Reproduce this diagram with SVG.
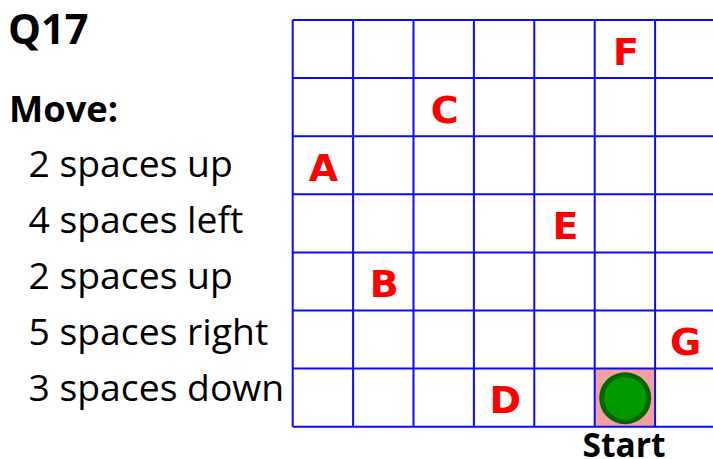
<svg xmlns="http://www.w3.org/2000/svg" width="713" height="459" viewBox="0 0 713 459">
<style>
.grid{stroke:#0a0aff;stroke-width:2;fill:none}
.lbl{font-family:"DejaVu Sans",Verdana,sans-serif;font-weight:bold;font-size:38px;fill:#ff0000;text-anchor:middle}
.bold{font-family:"Open Sans","Noto Sans",sans-serif;font-weight:bold;fill:#000}
.reg{font-family:"Open Sans","Noto Sans",sans-serif;font-size:37.3px;fill:#000}
</style>
<rect width="713" height="459" fill="#fff"/>
<g id="start-cell">
<rect x="594.7" y="368.6" width="60.4" height="58.1" fill="#f5a0a0"/>
</g>
<g id="grid" class="grid">
<path d="M292.7 20H713M292.7 78.1H713M292.7 136.2H713M292.7 194.3H713M292.7 252.4H713M292.7 310.5H713M292.7 368.6H713M292.7 426.7H713"/>
<path d="M292.7 20V426.7M353.1 20V426.7M413.5 20V426.7M473.9 20V426.7M534.3 20V426.7M594.7 20V426.7M655.1 20V426.7"/>
</g>
<g id="token">
<circle cx="625.2" cy="398.2" r="23.5" fill="#009900" stroke="#006600" stroke-width="5"/>
</g>
<g id="letters">
<g id="F"><text class="lbl" x="626" y="64.6">F</text></g>
<g id="C"><text class="lbl" x="444.7" y="122.7">C</text></g>
<g id="A"><text class="lbl" x="323.5" y="180.7">A</text></g>
<g id="E"><text class="lbl" x="565.5" y="238.9">E</text></g>
<g id="B"><text class="lbl" x="384.3" y="297">B</text></g>
<g id="G"><text class="lbl" x="685.5" y="355">G</text></g>
<g id="D"><text class="lbl" x="505.3" y="413">D</text></g>
</g>
<g id="instructions">
<text class="bold" x="8" y="44.3" font-size="41.5">Q17</text>
<text class="bold" x="9" y="121.7" font-size="36.3">Move:</text>
<text class="reg" x="28.5" y="176.7">2 spaces up</text>
<text class="reg" x="28.5" y="232.8">4 spaces left</text>
<text class="reg" x="28.5" y="288.9">2 spaces up</text>
<text class="reg" x="28.5" y="345">5 spaces right</text>
<text class="reg" x="28.5" y="401.1">3 spaces down</text>
</g>
<g id="start-label">
<text class="bold" x="624" y="456.5" font-size="33.5" text-anchor="middle">Start</text>
</g>
</svg>
